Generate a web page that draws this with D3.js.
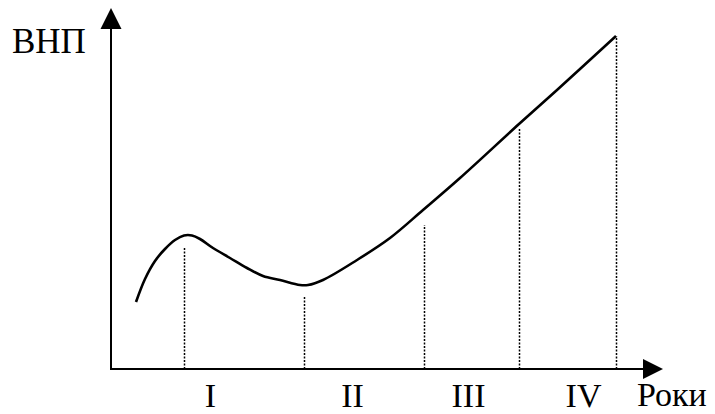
<!DOCTYPE html>
<html>
<head>
<meta charset="utf-8">
<script src="https://cdn.jsdelivr.net/npm/d3@7"></script>
<style>
  html, body { margin: 0; padding: 0; background: #fff; }
  svg { display: block; }
  text { font-family: "Liberation Serif", "Times New Roman", serif; fill: #000; }
</style>
</head>
<body>
<svg id="chart" width="715" height="414"></svg>
<script>
// Curve (arbitrary units: time on x, GNP on y)
const curveX = [5.0, 6.8, 8.8, 10.8, 12.8, 14.6, 16.2, 17.8, 20.4, 23.8, 27.2, 30.4, 33.8, 37.8, 39.4, 42.4, 49.2, 55.8, 62.4, 69.8, 81.6, 89.2, 101];
const curveY = [13.4, 18.0, 21.6, 24.0, 25.8, 26.7, 26.7, 26.0, 24.2, 22.2, 20.2, 18.6, 17.8, 16.8, 16.8, 17.8, 21.8, 26.2, 31.8, 38.2, 49.0, 55.8, 66.6];
// Dotted phase boundaries
const boundaryX = [14.6, 38.5, 62.5, 81.6, 101];
const boundaryTop = [24.2, 14.4, 28.8, 48.2, 66.6];
// Phase labels
const phaseLabels = ["I", "II", "III", "IV"];
const phaseLabelX = [19.8, 48.2, 71.4, 94.4];
const yLabel = "ВНП";
const xLabel = "Роки";

const svg = d3.select("#chart");
const x = d3.scaleLinear().domain([0, 110]).range([111, 661]);
const y = d3.scaleLinear().domain([0, 72]).range([369, 9]);

// Dotted verticals
svg.append("g").selectAll("line").data(boundaryX).join("line")
  .attr("x1", d => Math.round(x(d)) + 0.5).attr("x2", d => Math.round(x(d)) + 0.5)
  .attr("y1", y(0)).attr("y2", (d, i) => y(boundaryTop[i]))
  .attr("stroke", "#000").attr("stroke-width", 1.5)
  .attr("stroke-dasharray", "2,1.5");

// Axes lines
svg.append("line").attr("x1", x(0)).attr("x2", x(0))
  .attr("y1", y(0) + 1).attr("y2", y(68))
  .attr("stroke", "#000").attr("stroke-width", 2);
svg.append("line").attr("x1", x(0) - 1).attr("x2", x(106.4))
  .attr("y1", y(0)).attr("y2", y(0))
  .attr("stroke", "#000").attr("stroke-width", 2);

// Arrow heads
svg.append("path")
  .attr("d", `M${x(0)},${y(72.2)} L${x(0) - 10.5},${y(68)} L${x(0) + 10.5},${y(68)} Z`)
  .attr("fill", "#000");
svg.append("path")
  .attr("d", `M${x(110.4)},${y(0)} L${x(106.4)},${y(0) - 10} L${x(106.4)},${y(0) + 10} Z`)
  .attr("fill", "#000");

// Bottom axis (labels only)
const axis = d3.axisBottom(x).tickValues(phaseLabelX)
  .tickFormat((d, i) => phaseLabels[i]).tickSize(0).tickPadding(14);
const gx = svg.append("g").attr("transform", `translate(0,${y(0)})`).call(axis);
gx.select(".domain").remove();
gx.selectAll("text").style("font-size", "34px")
  .style("font-family", "'Liberation Serif', serif").attr("fill", "#000");

// Curve
const pts = curveX.map((d, i) => [d, curveY[i]]);
svg.append("path").datum(pts)
  .attr("d", d3.line().x(d => x(d[0])).y(d => y(d[1])).curve(d3.curveCatmullRom))
  .attr("fill", "none").attr("stroke", "#000").attr("stroke-width", 2.6);

// Axis titles
svg.append("text").attr("x", 12).attr("y", 53).style("font-size", "35px")
  .style("font-family", "'Liberation Serif', serif").text(yLabel);
svg.append("text").attr("x", 637).attr("y", 406).style("font-size", "34px")
  .style("font-family", "'Liberation Serif', serif").text(xLabel);
</script>
</body>
</html>
